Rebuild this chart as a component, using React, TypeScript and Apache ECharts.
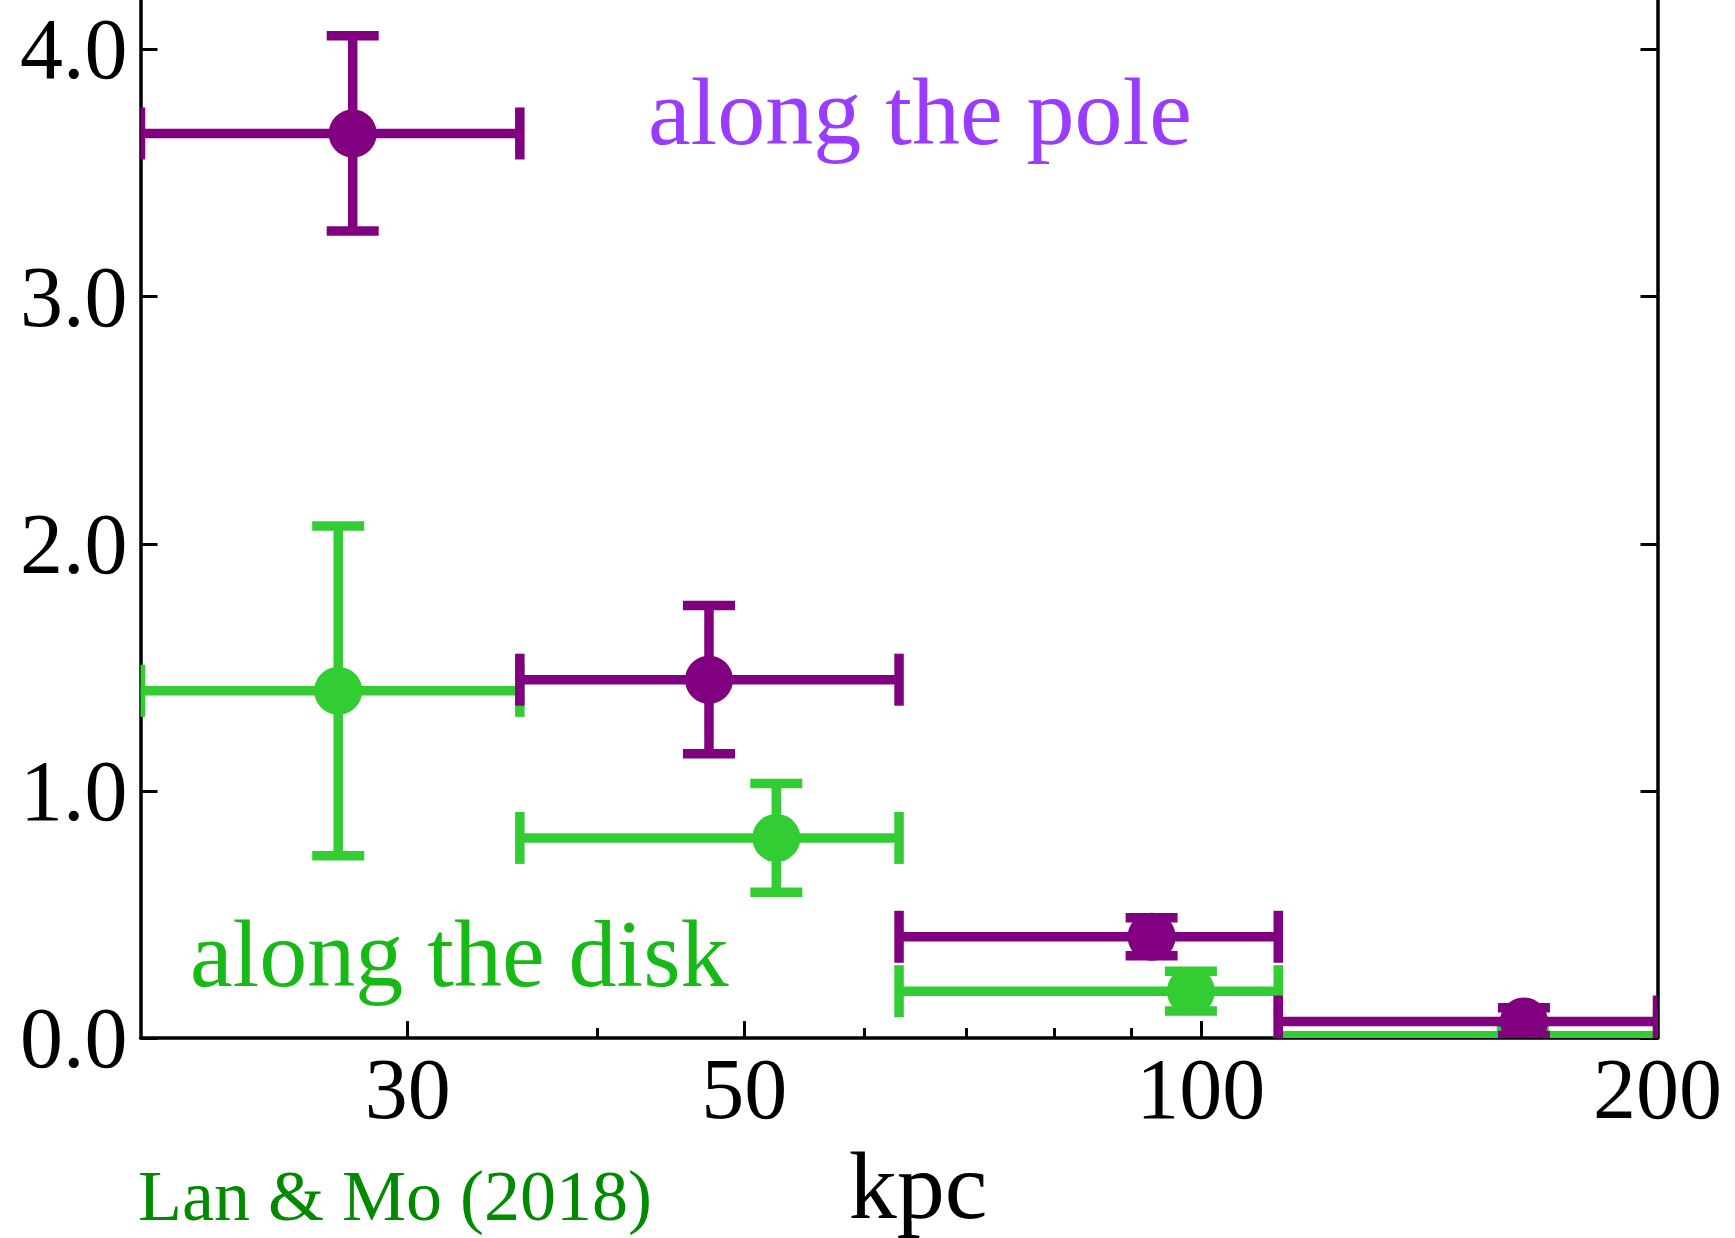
import React, { useEffect, useRef } from 'react';
import * as echarts from 'echarts';

// ---- data (kpc on a log axis) ----
const binEdges = [20, 35.57, 63.25, 112.47, 200];
const poleX = [27.6, 47.4, 92.8, 163.3];
const poleY = [3.66, 1.45, 0.41, 0.067];
const poleYErr = [0.395, 0.3, 0.077, 0.056];
const diskX = [27.0, 52.5, 98.5, 163.0];
const diskY = [1.405, 0.81, 0.19, 0.01];
const diskYErr = [0.667, 0.22, 0.08, 0.03];
const xMajorTicks = [30, 50, 100, 200];
const xMinorTicks = [40, 60, 70, 80, 90];
const yTicks = [0, 1, 2, 3, 4];
const xRange = [20, 200];
const yRange = [0, 4.2];

const PURPLE = '#800080';
const LIME = '#32cd32';
const FONT = '"Liberation Serif", "Times New Roman", serif';

const lg = (v: number) => Math.log10(v);

function buildData(xs: number[], ys: number[], errs: number[]) {
  return xs.map((x, i) => [lg(x), ys[i], lg(binEdges[i]), lg(binEdges[i + 1]), ys[i] - errs[i], ys[i] + errs[i]]);
}

function makeRender(color: string) {
  const LW = 9.5;
  const CAP = 26;
  const R = 24;
  return (params: any, api: any) => {
    const c = api.coord([api.value(0), api.value(1)]);
    const l = api.coord([api.value(2), api.value(1)]);
    const r = api.coord([api.value(3), api.value(1)]);
    const b = api.coord([api.value(0), api.value(4)]);
    const t = api.coord([api.value(0), api.value(5)]);
    const style = { stroke: color, lineWidth: LW, lineCap: 'butt' };
    const cs = params.coordSys;
    const mk = (x1: number, y1: number, x2: number, y2: number) => ({
      type: 'line',
      shape: { x1, y1, x2, y2 },
      style,
    });
    return {
      type: 'group',
      clipPath: { type: 'rect', shape: { x: cs.x, y: cs.y, width: cs.width, height: cs.height } },
      children: [
        mk(l[0], l[1], r[0], r[1]),
        mk(l[0], l[1] - CAP, l[0], l[1] + CAP),
        mk(r[0], r[1] - CAP, r[0], r[1] + CAP),
        mk(t[0], t[1], b[0], b[1]),
        mk(t[0] - CAP, t[1], t[0] + CAP, t[1]),
        mk(b[0] - CAP, b[1], b[0] + CAP, b[1]),
        { type: 'circle', shape: { cx: c[0], cy: c[1], r: R }, style: { fill: color } },
      ],
    };
  };
}

export default function App() {
  const ref = useRef<HTMLDivElement>(null);
  useEffect(() => {
    if (!ref.current) return;
    const chart = echarts.init(ref.current, undefined, { renderer: 'svg' });
    const axisLineStyle = { color: '#000', width: 3.5 };
    const option: any = {
      animation: false,
      backgroundColor: '#fff',
      grid: { left: 140.5, right: 77.5, top: 0, bottom: 198, containLabel: false },
      xAxis: [
        {
          type: 'value',
          min: lg(xRange[0]),
          max: lg(xRange[1]),
          position: 'bottom',
          name: 'kpc',
          nameLocation: 'middle',
          nameGap: 88,
          nameTextStyle: { fontFamily: FONT, fontSize: 96, color: '#000', padding: [0, 0, 0, 38] },
          axisLine: { show: true, onZero: false, lineStyle: axisLineStyle },
          axisTick: {
            show: true,
            inside: true,
            length: 17,
            lineStyle: { color: '#000', width: 3 },
            customValues: xMajorTicks.map(lg),
          },
          axisLabel: {
            show: true,
            margin: 8,
            customValues: xMajorTicks.map(lg),
            formatter: (v: number) => String(Math.round(Math.pow(10, v))),
            fontFamily: FONT,
            fontSize: 86,
            color: '#000',
          },
          splitLine: { show: false },
        },
        {
          type: 'value',
          min: lg(xRange[0]),
          max: lg(xRange[1]),
          position: 'bottom',
          axisLine: { show: false, onZero: false },
          axisTick: {
            show: true,
            inside: true,
            length: 10,
            lineStyle: { color: '#000', width: 3 },
            customValues: xMinorTicks.map(lg),
          },
          axisLabel: { show: false },
          splitLine: { show: false },
        },
      ],
      yAxis: [
        {
          type: 'value',
          min: yRange[0],
          max: yRange[1],
          position: 'left',
          axisLine: { show: true, onZero: false, lineStyle: axisLineStyle },
          axisTick: {
            show: true,
            inside: true,
            length: 17,
            lineStyle: { color: '#000', width: 3 },
            customValues: yTicks,
          },
          axisLabel: {
            show: true,
            margin: 13,
            customValues: yTicks,
            formatter: (v: number) => v.toFixed(1),
            fontFamily: FONT,
            fontSize: 86,
            color: '#000',
          },
          splitLine: { show: false },
        },
        {
          type: 'value',
          min: yRange[0],
          max: yRange[1],
          position: 'right',
          axisLine: { show: true, onZero: false, lineStyle: axisLineStyle },
          axisTick: {
            show: true,
            inside: true,
            length: 17,
            lineStyle: { color: '#000', width: 3 },
            customValues: yTicks,
          },
          axisLabel: { show: false },
          splitLine: { show: false },
        },
      ],
      series: [
        {
          name: 'along the disk',
          type: 'custom',
          xAxisIndex: 0,
          yAxisIndex: 0,
          renderItem: makeRender(LIME),
          encode: { x: [0, 2, 3], y: [1, 4, 5] },
          data: buildData(diskX, diskY, diskYErr),
          z: 2,
        },
        {
          name: 'along the pole',
          type: 'custom',
          xAxisIndex: 0,
          yAxisIndex: 0,
          renderItem: makeRender(PURPLE),
          encode: { x: [0, 2, 3], y: [1, 4, 5] },
          data: buildData(poleX, poleY, poleYErr),
          z: 3,
        },
      ],
      graphic: [
        {
          type: 'text',
          x: 648,
          y: 111,
          style: { text: 'along the pole', font: `96px ${FONT}`, fill: '#9a3cff', verticalAlign: 'middle', align: 'left' },
          z: 10,
        },
        {
          type: 'text',
          x: 190,
          y: 953,
          style: { text: 'along the disk', font: `96px ${FONT}`, fill: '#16b916', verticalAlign: 'middle', align: 'left' },
          z: 10,
        },
        {
          type: 'text',
          x: 138,
          y: 1196,
          style: { text: 'Lan & Mo (2018)', font: `72px ${FONT}`, fill: '#008a00', verticalAlign: 'middle', align: 'left' },
          z: 10,
        },
      ],
    };
    chart.setOption(option);
    return () => chart.dispose();
  }, []);
  return (
    <div
      ref={ref}
      style={{ position: 'absolute', left: 0, top: 0, width: 1735, height: 1238, background: '#fff' }}
    />
  );
}
